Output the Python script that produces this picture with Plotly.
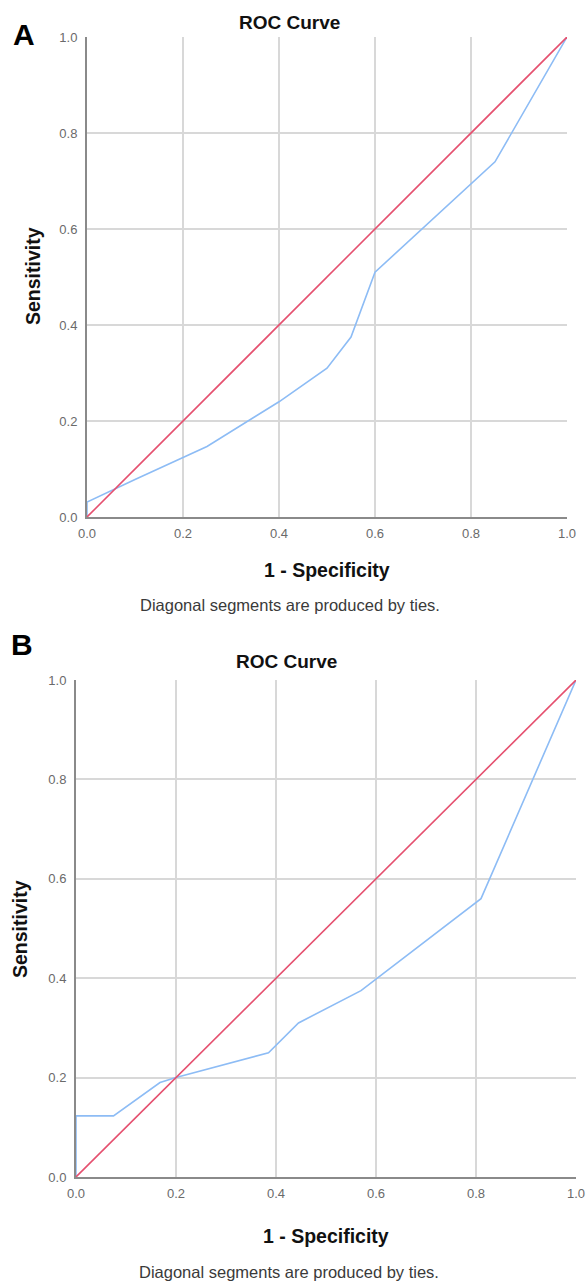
import plotly.graph_objects as go

# Panel A ROC curve
a_fpr = [0.0, 0.0, 0.10, 0.20, 0.25, 0.40, 0.50, 0.55, 0.60, 0.85, 1.0]
a_tpr = [0.0, 0.031, 0.078, 0.125, 0.147, 0.24, 0.31, 0.375, 0.51, 0.74, 1.0]
# Panel B ROC curve
b_fpr = [0.0, 0.0, 0.075, 0.168, 0.20, 0.385, 0.445, 0.57, 0.81, 1.0]
b_tpr = [0.0, 0.123, 0.123, 0.19, 0.20, 0.25, 0.31, 0.375, 0.56, 1.0]
ref_line = [0.0, 1.0]
tick_vals = [0.0, 0.2, 0.4, 0.6, 0.8, 1.0]
tick_text = ["0.0", "0.2", "0.4", "0.6", "0.8", "1.0"]

W, H = 587, 1283
BLUE = "#8dbcf5"
RED = "#e5506f"
FONT = "Liberation Sans, Arial, sans-serif"

fig = go.Figure()

panels = [
    dict(xa="x", ya="y", fpr=a_fpr, tpr=a_tpr),
    dict(xa="x2", ya="y2", fpr=b_fpr, tpr=b_tpr),
]
for p in panels:
    fig.add_trace(go.Scatter(x=p["fpr"], y=p["tpr"], mode="lines",
                             line=dict(color=BLUE, width=1.6),
                             xaxis=p["xa"], yaxis=p["ya"], cliponaxis=False,
                             showlegend=False, hoverinfo="skip"))
    fig.add_trace(go.Scatter(x=ref_line, y=ref_line, mode="lines",
                             line=dict(color=RED, width=1.6),
                             xaxis=p["xa"], yaxis=p["ya"], cliponaxis=False,
                             showlegend=False, hoverinfo="skip"))

def px_x(v):
    return v / W

def px_y(v):
    return 1 - v / H

axis_common = dict(range=[0, 1], tickvals=tick_vals, ticktext=tick_text,
                   showgrid=True, gridcolor="#d8d8d8", gridwidth=2,
                   zeroline=False, showline=True, linecolor="#8a8a8a",
                   linewidth=2, ticks="", fixedrange=True, automargin=False,
                   tickfont=dict(family=FONT, size=13, color="#6a6a6a"))

fig.update_layout(
    width=W, height=H,
    margin=dict(l=0, r=0, t=0, b=0),
    paper_bgcolor="white", plot_bgcolor="white",
    xaxis=dict(domain=[px_x(87), px_x(567)], anchor="y",
               ticklabelstandoff=3, **axis_common),
    yaxis=dict(domain=[px_y(517), px_y(37)], anchor="x",
               ticklabelstandoff=5, **axis_common),
    xaxis2=dict(domain=[px_x(76), px_x(576)], anchor="y2",
                ticklabelstandoff=3, **axis_common),
    yaxis2=dict(domain=[px_y(1177), px_y(680)], anchor="x2",
                ticklabelstandoff=5, **axis_common),
)

def ann(text, x, y, size, bold=False, color="#111", angle=0):
    fig.add_annotation(text=f"<b>{text}</b>" if bold else text,
                       x=px_x(x), y=px_y(y), xref="paper", yref="paper",
                       showarrow=False, textangle=angle,
                       xanchor="center", yanchor="middle",
                       font=dict(family=FONT, size=size, color=color))

# Panel A texts
ann("A", 24, 35, 30, bold=True, color="#000")
ann("ROC Curve", 289, 22, 19, bold=True)
ann("Sensitivity", 33, 276, 19.5, bold=True, angle=-90)
ann("1 - Specificity", 327, 570, 19.5, bold=True)
ann("Diagonal segments are produced by ties.", 290, 605, 16.5, color="#3a3a3a")

# Panel B texts
ann("B", 22, 644, 30, bold=True, color="#000")
ann("ROC Curve", 286, 661, 19, bold=True)
ann("Sensitivity", 20, 929, 19.5, bold=True, angle=-90)
ann("1 - Specificity", 326, 1236, 19.5, bold=True)
ann("Diagonal segments are produced by ties.", 289, 1272, 16.5, color="#3a3a3a")

fig.write_html("out.html", config={"displayModeBar": False},
               post_script="document.body.style.margin='0';document.body.style.overflow='hidden';")
